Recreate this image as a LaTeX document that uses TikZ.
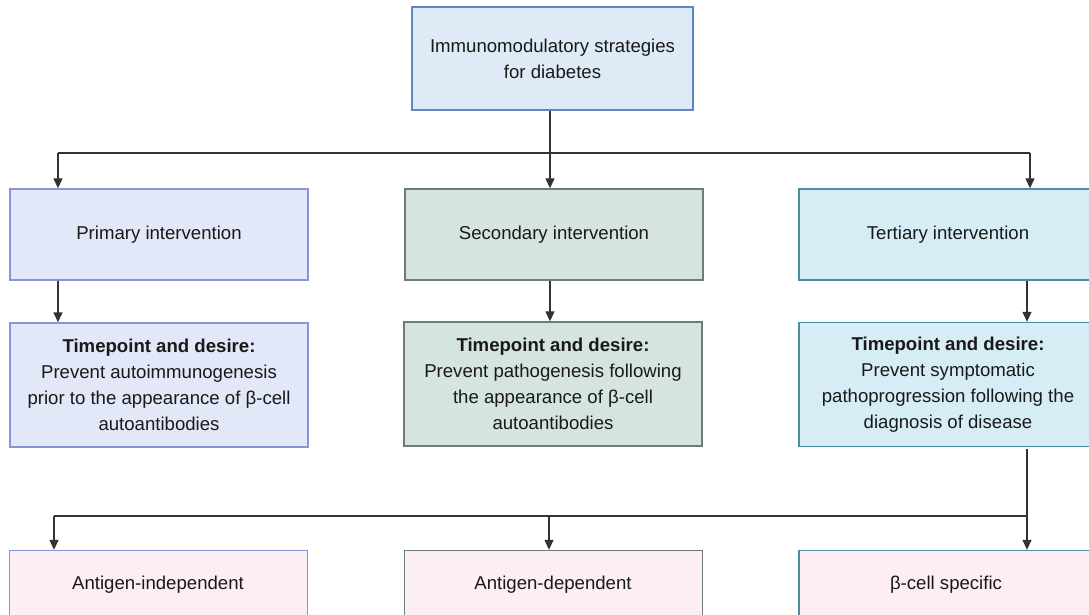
\documentclass[tikz,border=0pt]{standalone}
\usepackage{fontspec}
\setmainfont{Liberation Sans}
\usetikzlibrary{arrows.meta}
\definecolor{topfill}{HTML}{DEEAF6}
\definecolor{topdraw}{HTML}{5B87C5}
\definecolor{pfill}{HTML}{E3E8F8}
\definecolor{pdraw}{HTML}{8795D6}
\definecolor{sfill}{HTML}{D5E5DE}
\definecolor{sdraw}{HTML}{6E7C76}
\definecolor{tfill}{HTML}{D6EDF5}
\definecolor{tdraw}{HTML}{4C8FA3}
\definecolor{bfill}{HTML}{FCEEF3}
\definecolor{linec}{HTML}{333333}
\tikzset{
  box/.style={rectangle, line width=1.4pt, inner sep=0pt, align=center, text=black!90,
    font=\fontsize{18.6}{26}\selectfont, minimum width=298pt},
  rowtwo/.style={box, minimum height=91pt},
  rowthree/.style={box, minimum height=124pt},
  rowfour/.style={box, minimum height=91pt, fill=bfill},
  conn/.style={draw=linec, line width=1.3pt},
  arr/.style={conn, -{Triangle[length=10pt,width=9pt]}},
  bus/.style={draw=linec, line width=1.8pt}
}
\begin{document}
\begin{tikzpicture}[x=1pt,y=-1pt]
\useasboundingbox (0,0) rectangle (1089,614);
\node[box, minimum width=281pt, minimum height=103pt, fill=topfill, draw=topdraw] (top) at (552.5,58.5)
  {Immunomodulatory strategies\\for diabetes};
% row 2
\node[rowtwo, fill=pfill, draw=pdraw] (prim) at (159,234.5) {\raisebox{-1.5pt}{Primary intervention}};
\node[rowtwo, fill=sfill, draw=sdraw] (sec) at (554,234.5) {\raisebox{-1.5pt}{Secondary intervention}};
\node[rowtwo, fill=tfill, draw=tdraw] (ter) at (948,234.5) {\raisebox{-1.5pt}{Tertiary intervention}};
% row 3
\node[rowthree, fill=pfill, draw=pdraw] (primd) at (159,385) {\textbf{Timepoint and desire:}\\Prevent autoimmunogenesis\\prior to the appearance of β-cell\\autoantibodies};
\node[rowthree, fill=sfill, draw=sdraw] (secd) at (553,384) {\textbf{Timepoint and desire:}\\Prevent pathogenesis following\\the appearance of β-cell\\autoantibodies};
\node[rowthree, fill=tfill, draw=tdraw] (terd) at (948,384.5) {\textbf{Timepoint and desire:}\\Prevent symptomatic\\pathoprogression following the\\diagnosis of disease};
% row 4
\node[rowfour, draw=pdraw] (ai) at (158.5,596) {};
\node[rowfour, draw=sdraw] (ad) at (553.5,596) {};
\node[rowfour, draw=tdraw] (bc) at (948,596) {};
\node[text=black!90] (aitext) at (158,585) {\fontsize{18.6}{26}\selectfont Antigen-independent};
\node[text=black!90] (adtext) at (553,585) {\fontsize{18.6}{26}\selectfont Antigen-dependent};
\node[text=black!90] (bctext) at (946,585) {\fontsize{18.6}{26}\selectfont β-cell specific};
% coordinates
\coordinate (j1) at (550,153);
\coordinate (jl) at (58,153);
\coordinate (jr) at (1030,153);
\coordinate (k1) at (1027,516);
\coordinate (kl) at (54,516);
\coordinate (km) at (549,516);
\coordinate (kt) at (1027,449);
% top connectors
\draw[bus] (jl) -- (jr);
\draw[conn] (top.south -| j1) -- (j1);
\draw[arr] (j1) -- (j1 |- sec.north);
\draw[arr] (jl) -- (jl |- prim.north);
\draw[arr] (jr) -- (jr |- ter.north);
% row 2 -> row 3
\draw[arr] (prim.south -| jl) -- (jl |- primd.north);
\draw[arr] (sec.south -| j1) -- (j1 |- secd.north);
\draw[arr] (ter.south -| k1) -- (k1 |- terd.north);
% bottom
\draw[bus] (kl) -- (k1);
\draw[conn] (kt) -- (k1);
\draw[arr] (k1) -- (k1 |- bc.north);
\draw[arr] (kl) -- (kl |- ai.north);
\draw[arr] (km) -- (km |- ad.north);
\end{tikzpicture}
\end{document}
